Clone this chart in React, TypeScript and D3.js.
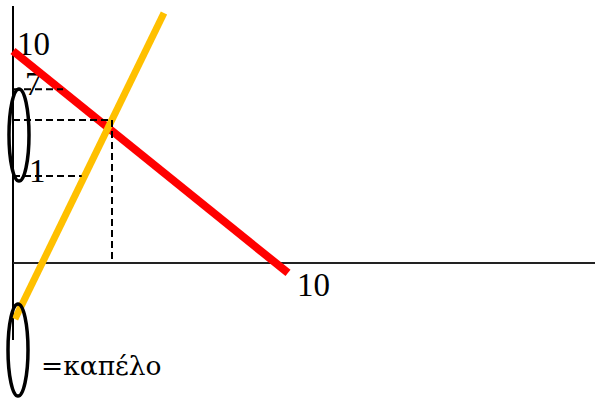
import React from "react";
import * as d3 from "d3";

const W = 595;
const H = 398;

// schematic data units
const demandLine: [number, number][] = [[0, 10], [10, -0.47]];
const supplyLine: [number, number][] = [[0.07, -2.64], [5.49, 11.79]];
const equilibrium: [number, number] = [3.6, 6.75];
const priceLevels = [
  { label: "7", y: 8.2, xEnd: 1.82 },
  { label: "1", y: 4.1, xEnd: 2.5 },
];
const axisLabels = { yTop: "10", xRight: "10" };
const legendText = "=καπέλο";

export default function App() {
  const x = d3.scaleLinear().domain([0, 10]).range([13, 288]);
  const y = d3.scaleLinear().domain([0, 10]).range([263, 51]);
  const line = d3
    .line<[number, number]>()
    .x((d) => x(d[0]))
    .y((d) => y(d[1]));

  const font = "'Liberation Serif', serif";
  const greekFont = "'DejaVu Serif', serif";
  const dash = "7 4";
  const fs = 33;

  return (
    <svg
      width={W}
      height={H}
      style={{ position: "absolute", left: 0, top: 0, background: "#fff" }}
    >
      {/* axes */}
      <line x1={x(0)} y1={y(12.12)} x2={x(0)} y2={y(-3.63)} stroke="#000" strokeWidth={2} />
      <line x1={x(0)} y1={y(0)} x2={W} y2={y(0)} stroke="#222" strokeWidth={2} />

      {/* labels */}
      <text x={17} y={55} style={{ fontFamily: font, fontSize: fs }} fill="#000">
        {axisLabels.yTop}
      </text>
      {priceLevels.map((p) => (
        <text key={p.label} x={p.label === "1" ? 29 : 25} y={y(p.y) + 6} style={{ fontFamily: font, fontSize: fs }} fill="#000">
          {p.label}
        </text>
      ))}
      <text x={297} y={296} style={{ fontFamily: font, fontSize: fs }} fill="#000">
        {axisLabels.xRight}
      </text>

      {/* demand */}
      <path d={line(demandLine) || ""} stroke="#FF0000" strokeWidth={8} fill="none" />
      {/* supply */}
      <path d={line(supplyLine) || ""} stroke="#FFC000" strokeWidth={7} fill="none" />

      {/* dashed guides */}
      {priceLevels.map((p) => (
        <line
          key={"d" + p.label}
          x1={x(0)}
          y1={y(p.y)}
          x2={x(p.xEnd)}
          y2={y(p.y)}
          stroke="#000"
          strokeWidth={2}
          strokeDasharray={dash}
        />
      ))}
      <line
        x1={x(0)}
        y1={y(equilibrium[1])}
        x2={x(equilibrium[0])}
        y2={y(equilibrium[1])}
        stroke="#000"
        strokeWidth={2}
        strokeDasharray={dash}
      />
      <line
        x1={x(equilibrium[0])}
        y1={y(equilibrium[1])}
        x2={x(equilibrium[0])}
        y2={y(0)}
        stroke="#000"
        strokeWidth={2}
        strokeDasharray={dash}
      />

      {/* ellipses */}
      <ellipse cx={19} cy={135} rx={10} ry={46} fill="none" stroke="#000" strokeWidth={3.5} />
      <ellipse cx={18} cy={350} rx={10} ry={46} fill="none" stroke="#000" strokeWidth={3.5} />

      <text x={41} y={375} style={{ fontFamily: greekFont, fontSize: 26.5 }} fill="#000">
        {legendText}
      </text>
    </svg>
  );
}
